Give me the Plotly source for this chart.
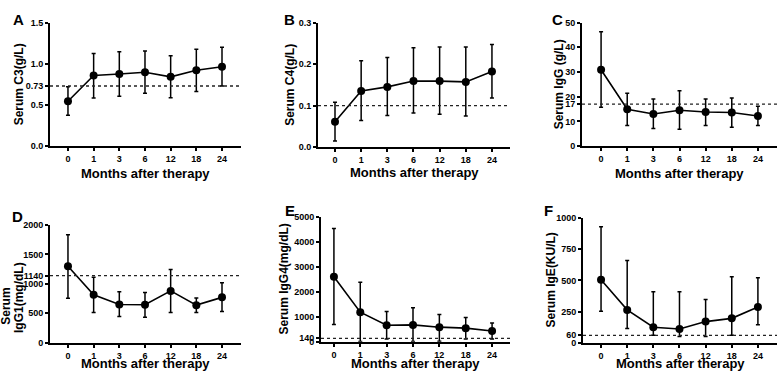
import plotly.graph_objects as go

# ---------------- data ----------------
months = ["0", "1", "3", "6", "12", "18", "24"]

c3_mean = [0.545, 0.857, 0.876, 0.896, 0.841, 0.920, 0.963]
c3_upper = [0.720, 1.125, 1.145, 1.153, 1.097, 1.176, 1.200]
c3_lower = [0.375, 0.584, 0.604, 0.643, 0.588, 0.663, 0.730]
c3_ref = 0.73

c4_mean = [0.061, 0.135, 0.145, 0.159, 0.159, 0.157, 0.182]
c4_upper = [0.108, 0.208, 0.216, 0.239, 0.241, 0.241, 0.247]
c4_lower = [0.015, 0.064, 0.076, 0.082, 0.079, 0.075, 0.118]
c4_ref = 0.1

igg_mean = [30.9, 14.9, 13.0, 14.5, 13.8, 13.6, 12.2]
igg_upper = [46.3, 21.4, 19.1, 22.4, 19.1, 19.5, 16.1]
igg_lower = [15.7, 8.3, 7.1, 6.8, 8.3, 7.6, 8.3]
igg_ref = 17

igg1_mean = [1300, 815, 650, 645, 881, 639, 771]
igg1_upper = [1835, 1113, 865, 854, 1245, 760, 1019]
igg1_lower = [755, 512, 446, 435, 512, 512, 529]
igg1_ref = 1140

igg4_mean = [2611, 1188, 666, 679, 587, 548, 431]
igg4_upper = [4543, 2389, 1214, 1371, 1097, 979, 757]
igg4_lower = [692, 13, 117, 13, 26, 117, 117]
igg4_ref = 140

ige_mean = [506, 264, 125, 110, 170, 196, 287]
ige_upper = [932, 661, 410, 410, 347, 530, 522]
ige_lower = [253, 115, 60, 50, 50, 60, 144]
ige_ref = 60

ticks_c3 = [0, 0.5, 0.73, 1.0, 1.5]
labels_c3 = ["0.0", "0.5", "0.73", "1.0", "1.5"]
ticks_c4 = [0, 0.1, 0.2, 0.3]
labels_c4 = ["0.0", "0.1", "0.2", "0.3"]
ticks_igg = [0, 10, 17, 20, 30, 40, 50]
labels_igg = ["0", "10", "17", "20", "30", "40", "50"]
ticks_igg1 = [0, 500, 1000, 1140, 1500, 2000]
labels_igg1 = ["0", "500", "1000", "1140", "1500", "2000"]
ticks_igg4 = [0, 140, 1000, 2000, 3000, 4000, 5000]
labels_igg4 = ["0", "140", "1000", "2000", "3000", "4000", "5000"]
ticks_ige = [0, 60, 250, 500, 750, 1000]
labels_ige = ["0", "60", "250", "500", "750", "1000"]

# ---------------- layout helpers ----------------
W, H = 778, 376
FONT = "Liberation Sans, Arial, Helvetica, sans-serif"


def bold(labels):
    return ["<b>" + s + "</b>" for s in labels]


# title entries: (text, x-centre px, y-centre px or None for the plot centre)
panels = [
    dict(letter="A", title=[("Serum C3(g/L)", 19, None)], mean=c3_mean, up=c3_upper, lo=c3_lower, ref=c3_ref,
         yr=[0, 1.5], tv=ticks_c3, tt=labels_c3, xty=173,
         px=(50, 241), py=(18, 145), xr=[-0.70, 6.74], letter_xy=(11, 4)),
    dict(letter="B", title=[("Serum C4(g/L)", 290, None)], mean=c4_mean, up=c4_upper, lo=c4_lower, ref=c4_ref,
         yr=[0, 0.3], tv=ticks_c4, tt=labels_c4, xty=172,
         px=(318, 510), py=(18, 146), xr=[-0.65, 6.69], letter_xy=(282, 4)),
    dict(letter="C", title=[("Serum IgG (g/L)", 559, None)], mean=igg_mean, up=igg_upper, lo=igg_lower,
         ref=igg_ref, yr=[0, 50], tv=ticks_igg, tt=labels_igg, xty=173,
         px=(582, 777), py=(18, 145), xr=[-0.73, 6.73], letter_xy=(550, 4)),
    dict(letter="D", title=[("Serum", 6, 310), ("IgG1(mg/dL)", 19, 301)], mean=igg1_mean, up=igg1_upper,
         lo=igg1_lower, ref=igg1_ref, yr=[0, 2000], tv=ticks_igg1, tt=labels_igg1, xty=368,
         px=(50, 241), py=(226, 347), xr=[-0.70, 6.74], letter_xy=(10, 206)),
    dict(letter="E", title=[("Serum IgG4(mg/dL)", 283, None)], mean=igg4_mean, up=igg4_upper, lo=igg4_lower,
         ref=igg4_ref, yr=[0, 5000], tv=ticks_igg4, tt=labels_igg4, xty=368,
         px=(321, 510), py=(218, 346), xr=[-0.49, 6.68], letter_xy=(283, 200)),
    dict(letter="F", title=[("Serum IgE(KU/L)", 551, None)], mean=ige_mean, up=ige_upper, lo=ige_lower,
         ref=ige_ref, yr=[0, 1000], tv=ticks_ige, tt=labels_ige, xty=368,
         px=(583, 777), py=(219, 347), xr=[-0.69, 6.73], letter_xy=(542, 200)),
]

fig = go.Figure()
annotations = []
shapes = []

for i, p in enumerate(panels, start=1):
    sx = "" if i == 1 else str(i)
    xa, ya = "x" + sx, "y" + sx
    plus = [u - m for u, m in zip(p["up"], p["mean"])]
    minus = [m - l for m, l in zip(p["mean"], p["lo"])]
    fig.add_trace(go.Scatter(
        x=months, y=p["mean"], xaxis=xa, yaxis=ya, mode="lines+markers",
        line=dict(color="black", width=1.6),
        marker=dict(color="black", size=8),
        error_y=dict(type="data", array=plus, arrayminus=minus, symmetric=False,
                     color="black", thickness=1.5, width=2),
        cliponaxis=False, showlegend=False, hoverinfo="skip",
    ))
    x0, x1 = p["px"]
    yt, yb = p["py"]
    common = dict(
        showline=True, linecolor="black", linewidth=2, ticks="outside", ticklen=3,
        tickwidth=1.5, tickcolor="black", showgrid=False, zeroline=False,
        tickfont=dict(family=FONT, size=9, color="black"), fixedrange=True,
    )
    fig.layout["xaxis" + sx] = dict(
        domain=[x0 / W, x1 / W], anchor=ya, type="category", range=p["xr"],
        tickmode="array", tickvals=months, ticktext=bold(months), **common,
    )
    fig.layout["yaxis" + sx] = dict(
        domain=[1 - yb / H, 1 - yt / H], anchor=xa, range=p["yr"],
        tickmode="array", tickvals=p["tv"], ticktext=bold(p["tt"]), **common,
    )
    # dotted reference line
    shapes.append(dict(type="line", xref=xa + " domain", x0=0, x1=1, yref=ya,
                       y0=p["ref"], y1=p["ref"],
                       line=dict(color="#222222", width=1.3, dash="dot")))
    # x title
    annotations.append(dict(text="<b>Months after therapy</b>", x=(x0 + x1) / 2 / W,
                            y=1 - p["xty"] / H, xref="paper", yref="paper",
                            xanchor="center", yanchor="middle", showarrow=False,
                            font=dict(family=FONT, size=13, color="black")))
    # y title (one annotation per line)
    for text, tx, ty in p["title"]:
        cy = (yt + yb) / 2 if ty is None else ty
        annotations.append(dict(text="<b>" + text + "</b>", x=tx / W,
                                y=1 - cy / H, xref="paper", yref="paper",
                                xanchor="center", yanchor="middle", textangle=-90,
                                showarrow=False,
                                font=dict(family=FONT, size=12, color="black")))
    # panel letter
    lx, ly = p["letter_xy"]
    annotations.append(dict(text="<b>" + p["letter"] + "</b>", x=lx / W, y=1 - ly / H,
                            xref="paper", yref="paper", xanchor="left", yanchor="top",
                            showarrow=False,
                            font=dict(family=FONT, size=15, color="black")))

fig.update_layout(
    width=W, height=H, margin=dict(l=0, r=0, t=0, b=0),
    paper_bgcolor="white", plot_bgcolor="white",
    annotations=annotations, shapes=shapes, showlegend=False,
)

fig.write_html("out.html", config={"displayModeBar": False},
               post_script="document.body.style.margin='0';")
